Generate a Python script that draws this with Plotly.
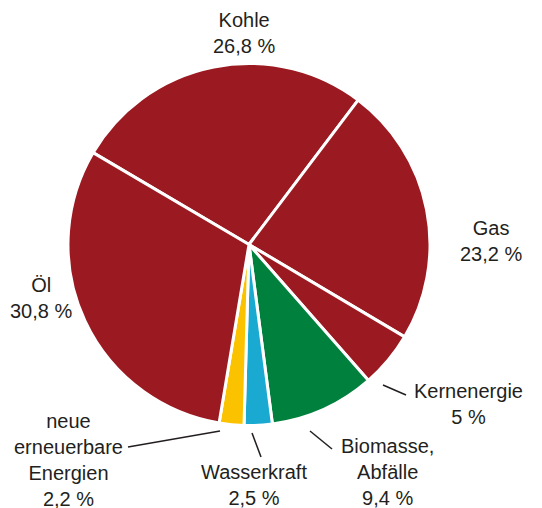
import plotly.graph_objects as go

W, H = 542, 508
OFF = 8  # page body margin offset
FW, FH = W - OFF, H - OFF

categories = ["Kohle", "Gas", "Kernenergie", "Biomasse, Abfälle", "Wasserkraft",
              "neue erneuerbare Energien", "Öl"]
label_lines = ["Kohle", "Gas", "Kernenergie", "Biomasse,<br>Abfälle", "Wasserkraft",
               "neue<br>erneuerbare<br>Energien", "Öl"]
values = [26.8, 23.2, 5.0, 9.4, 2.5, 2.2, 30.8]
value_labels = ["26,8 %", "23,2 %", "5 %", "9,4 %", "2,5 %", "2,2 %", "30,8 %"]
colors = ["#9B1A21", "#9B1A21", "#9B1A21", "#00803D", "#19A9D1", "#FBC200", "#9B1A21"]

# label positions (page pixels): center x, center y of text block
label_pos = [(244, 33), (491, 241), (468, 404), (387, 472), (254, 485), (68, 460), (41, 298)]
# leader lines (page pixels) or None
leaders = [None, None, ((383, 385), (406, 395)), ((310, 431), (332, 449)),
           ((252, 433), (261, 457)), ((220, 431), (128, 447)), None]

cx, cy, r = 249, 244.5, 181


def px(x):
    return (x - OFF) / FW


def py(y):
    return 1 - (y - OFF) / FH


fig = go.Figure(go.Pie(
    labels=categories,
    values=values,
    sort=False,
    direction="clockwise",
    rotation=-59.5,
    marker=dict(colors=colors, line=dict(color="white", width=3)),
    textinfo="none",
    hoverinfo="label+percent",
    showlegend=False,
    domain=dict(x=[px(cx - r), px(cx + r)], y=[py(cy + r), py(cy - r)]),
))

for name, val, (lx, ly), ld in zip(label_lines, value_labels, label_pos, leaders):
    fig.add_annotation(
        x=px(lx), y=py(ly), xref="paper", yref="paper",
        text=f"{name}<br>{val}", showarrow=False,
        xanchor="center", yanchor="middle", align="center",
        font=dict(family="Liberation Sans, Arial, sans-serif", size=20, color="#231F20"),
    )
    if ld:
        (x0, y0), (x1, y1) = ld
        fig.add_shape(type="line", xref="paper", yref="paper",
                      x0=px(x0), y0=py(y0), x1=px(x1), y1=py(y1),
                      line=dict(color="#231F20", width=1.5))

fig.update_layout(
    width=FW, height=FH,
    margin=dict(l=0, r=0, t=0, b=0),
    paper_bgcolor="white", plot_bgcolor="white",
)

fig.write_html("out.html")
